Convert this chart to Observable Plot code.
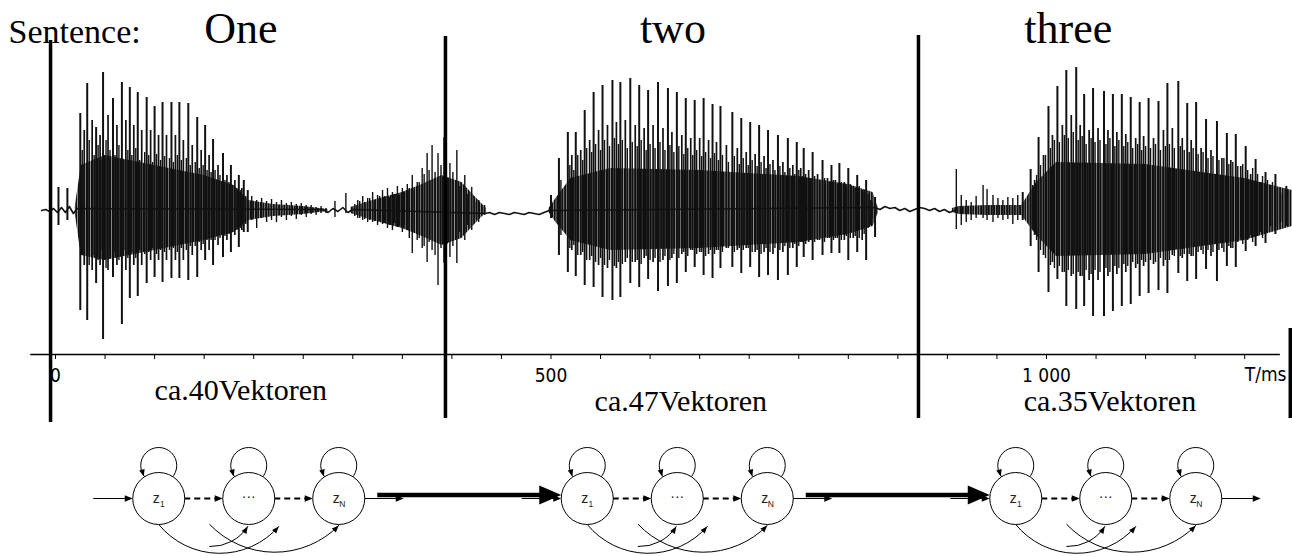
<!DOCTYPE html>
<html><head><meta charset="utf-8">
<script src="https://cdn.jsdelivr.net/npm/d3@7"></script>
<script src="https://cdn.jsdelivr.net/npm/@observablehq/plot@0.6"></script>
<style>body{margin:0;background:#fff}#chart svg{display:block}</style>
</head><body><div id="chart"></div>
<script>
// ---------- data (time in ms, amplitude in arbitrary units) ----------
const words = ["One", "two", "three"];
const wordTimes = [187, 623, 1022];
const vectorLabels = ["ca.40Vektoren", "ca.47Vektoren", "ca.35Vektoren"];
const vectorTimes = [187, 631, 1064];
const vectorRows = [-189, -200, -200];
const boundaries = [-5, 393.5, 870.8, 1246];
const boundaryTops = [170, 174, 175, -118];
const boundaryBottoms = [-212, -208, -208, -208];
const tickValues = d3.range(0, 1201, 50);
const tickLabels = {0: "0", 500: "500", 1000: "1 000"};
const axisUnit = "T/ms";

// "One" pitch pulses
const oneT  = [3,12,25,32,41,48,58,67,75,83,92,100,108,117,125,134,143,151,159,169,177,185,190,194];
const oneUp = [23,22,97,127,83,138,112,128,123,118,113,104,108,108,108,107,93,85,71,57,45,35,30,20];
const oneDn = [-15,-10,-100,-110,-73,-129,-67,-114,-88,-86,-73,-67,-72,-68,-68,-70,-67,-50,-55,-47,-42,-37,-22,-22];
const one2T  = [29,37,45,53,62,71,79,87,96,104,112,121,129,138,147,155,164,173,181,188];
const one2Up = [80,90,75,95,85,90,85,80,80,75,75,75,70,65,60,55,45,35,30,22];
const one2Dn = [-55,-60,-55,-60,-55,-60,-55,-55,-50,-50,-50,-50,-50,-45,-40,-40,-35,-30,-25,-20];
const one3T  = [27,34,39,43,47,51,55,60,64,69,73,77,81,85,90,94,98,102,106,110,115,119,123,127,132,136,141,145,149,153,157,161,166,171,175,179,183,187,192];
const one3Up = [60,70,55,65,50,70,60,55,65,50,60,55,62,50,58,55,48,56,50,54,52,48,55,50,52,45,48,42,45,40,38,40,35,30,28,25,22,20,14];
const one3Dn = [-45,-55,-45,-50,-40,-58,-45,-42,-50,-40,-48,-42,-48,-40,-44,-42,-38,-44,-40,-42,-40,-38,-42,-38,-40,-36,-36,-32,-34,-30,-30,-30,-28,-26,-24,-22,-20,-18,-14];
// fricative tail after "One"
const tailT  = [198,203,208,213,218,223,228,233,238,243,248,253,258,263,268,273,282,293];
const tailUp = [14,10,12,9,11,8,10,7,8,6,7,5,5,3,4,2,9,17];
const tailDn = [-10,-18,-8,-12,-10,-12,-7,-10,-6,-9,-5,-7,-4,-5,-3,-3,-7,-3];
// aspiration of "two"
const aspT  = [305,310,315,320,325,330,335,340,345,350,355,360,365,370,375,380,386,392,398,405,413,420,427,433];
const aspUp = [10,14,12,18,15,20,22,18,24,22,26,35,28,42,57,65,57,73,47,60,35,23,10,5];
const aspDn = [-8,-10,-12,-12,-15,-14,-18,-20,-17,-22,-20,-43,-30,-38,-52,-40,-75,-53,-47,-53,-30,-20,-12,-5];
const asp3T  = [302,307,312,317,322,327,332,337,342,347,352,357,362,367,372,377,383,389,395,401,408,416,423,430];
const asp3Up = [6,9,8,12,10,14,14,13,16,15,18,22,20,28,36,40,38,45,32,38,24,16,8,4];
const asp3Dn = [-6,-8,-9,-10,-11,-11,-13,-15,-13,-16,-15,-28,-22,-28,-36,-32,-45,-38,-34,-36,-22,-15,-9,-4];
// "two" pitch pulses
const twoT  = [500,508,517,525,534,543,552,562,570,580,589,598,608,618,627,636,645,654,663,671,683,692,701,710,719,729,739,748,755,764,774,783,791,800,809,818,827];
const twoUp = [15,52,78,78,100,118,125,130,128,132,125,120,128,122,118,112,110,112,106,104,98,92,88,85,80,75,72,68,62,58,50,45,47,42,35,30,13];
const twoDn = [-8,-45,-62,-66,-75,-77,-87,-90,-87,-73,-77,-69,-81,-76,-73,-62,-57,-65,-68,-58,-57,-63,-57,-67,-65,-70,-65,-57,-47,-50,-45,-43,-43,-50,-42,-50,-27];
const two2T  = [521,530,539,548,557,566,575,585,594,603,613,622,632,641,650,659,667,677,688,697,706,715,724,734,744,752,760,769,779,787,796,805,814,822];
const two2Up = [55,60,70,80,85,88,90,85,82,85,82,78,75,72,72,70,68,65,62,58,56,54,50,48,45,42,40,36,32,30,28,24,20,10];
const two2Dn = [-40,-45,-50,-55,-58,-58,-52,-52,-48,-52,-50,-48,-44,-40,-42,-44,-40,-38,-40,-38,-42,-42,-44,-42,-38,-32,-32,-30,-28,-28,-30,-28,-30,-15];
const two3T  = [510,519,523,527,532,536,541,545,550,554,559,564,568,572,577,582,587,591,596,600,605,610,615,620,624,629,634,638,643,647,652,656,661,665,669,673,679,685,690,694,699,703,708,712,717,721,726,731,736,741,746,750,754,757,762,766,771,776,781,785,789,793,798,802,807,811,816,820,824];
const two3Up = [30,45,40,55,50,62,58,66,60,70,64,72,66,70,62,68,64,70,60,66,62,68,60,65,58,64,56,62,55,60,54,58,52,57,50,55,48,54,46,52,45,50,44,48,42,46,40,44,38,42,36,40,34,36,32,34,30,32,28,30,26,28,24,26,22,24,18,16,8];
const two3Dn = [-25,-38,-35,-45,-42,-50,-46,-52,-48,-55,-50,-56,-52,-54,-48,-52,-50,-54,-46,-50,-48,-52,-46,-50,-44,-48,-42,-46,-40,-44,-42,-46,-40,-44,-40,-42,-38,-42,-38,-40,-38,-42,-40,-44,-38,-42,-38,-40,-36,-38,-34,-36,-32,-34,-30,-32,-30,-32,-28,-30,-28,-30,-26,-28,-26,-28,-24,-18,-8];
// onset noise of "three"
const thrOnT  = [909,914,919,924,929,936,940,946,951,956,961,966,971];
const thrOnUp = [41,15,10,8,14,25,21,15,12,10,13,12,15];
const thrOnDn = [-19,-15,-12,-10,-8,-8,-10,-12,-8,-10,-9,-14,-10];
// "three" pitch pulses
const threeT  = [976,984,992,1002,1011,1020,1030,1038,1047,1058,1067,1076,1085,1094,1103,1113,1122,1133,1142,1151,1161,1172,1182,1191,1201,1211,1221,1231,1242];
const threeUp = [18,41,73,104,124,140,143,116,122,119,116,116,113,108,112,109,127,129,107,108,91,89,77,76,64,51,38,36,24];
const threeDn = [-10,-36,-62,-82,-69,-96,-99,-96,-106,-106,-101,-96,-94,-86,-83,-80,-83,-63,-71,-69,-59,-71,-56,-57,-41,-36,-33,-24,-16];
const three2T  = [988,997,1006,1016,1025,1034,1043,1052,1062,1071,1080,1090,1098,1108,1118,1127,1137,1146,1156,1166,1177,1186,1196,1206,1216,1226,1236];
const three2Up = [30,55,75,85,95,85,80,82,80,78,76,72,74,72,80,82,72,70,62,60,52,50,44,36,28,25,18];
const three2Dn = [-25,-45,-52,-62,-66,-66,-70,-70,-66,-64,-62,-58,-56,-54,-56,-45,-48,-46,-40,-46,-38,-38,-28,-25,-22,-16,-12];
const three3T  = [986,990,994,999,1004,1008,1013,1018,1022,1027,1032,1036,1040,1045,1049,1054,1060,1064,1069,1073,1078,1082,1087,1092,1096,1100,1105,1110,1115,1120,1124,1129,1135,1139,1144,1148,1153,1158,1163,1168,1174,1179,1184,1188,1193,1198,1203,1208,1213,1218,1223,1228,1233,1238];
const three3Up = [25,35,45,55,62,70,68,75,72,78,70,74,66,72,68,70,66,72,64,70,64,68,62,66,60,64,62,66,60,64,66,62,64,60,58,62,56,58,52,54,50,52,46,48,44,46,40,42,36,34,30,28,22,16];
const three3Dn = [-20,-30,-40,-48,-55,-58,-56,-62,-60,-64,-62,-66,-60,-64,-60,-62,-58,-62,-56,-58,-54,-56,-52,-54,-50,-52,-50,-52,-48,-50,-50,-46,-46,-44,-44,-46,-42,-44,-40,-42,-40,-42,-36,-38,-32,-34,-30,-32,-26,-28,-22,-20,-16,-12];

// dense core envelopes
const coreSeg = ["one","one","one","one","one","one","one","one","one","one",
                 "asp","asp","asp","asp","asp","asp","asp","asp",
                 "two","two","two","two","two","two","two","two","two",
                 "thr","thr","thr","thr","thr","thr","thr","thr","thr"];
const coreT  = [20,26,50,100,150,180,195,220,250,275, 298,320,350,370,390,410,425,435, 498,505,520,560,650,750,800,825,830, 905,912,940,975,990,1010,1100,1200,1248];
const coreUp = [4,45,55,45,35,25,10,6,4,1, 3,10,18,26,35,28,12,2, 2,12,32,42,40,34,26,18,3, 2,4,5,5,28,48,46,32,20];
const coreDn = [-4,-45,-50,-40,-30,-22,-10,-6,-4,-1, -3,-10,-18,-26,-35,-28,-12,-2, -2,-12,-30,-40,-38,-32,-24,-16,-3, -2,-4,-5,-5,-25,-46,-44,-30,-16];

// low-level background noise
const baseT = [-14,-10,-6,-2,2,6,10,14,18,22, 270,275,280,285,290,295,300, 433,438,443,448,453,458,463,468,473,478,483,488,493,498, 827,832,837,842,847,852,857,862,867,872,877,882,887,892,897,902,907];
const baseA = [0,1,-1,2,-2,3,-2,4,-3,2, 1,-2,2,-1,3,-2,1, -3,-2,-4,-2,-3,-4,-2,-3,-4,-2,-3,-4,-2,0, 3,1,4,2,3,0,2,-1,1,3,2,0,2,-1,1,-2,0];

// ---------- layout ----------
const W = 1292, H = 556;
const pxPerMs = 0.991, originPx = 55, zeroPx = 210, axisPx = 354;
const xDomain = [-originPx / pxPerMs, (W - originPx) / pxPerMs];
const yDomain = [-(axisPx - zeroPx), zeroPx];
const mx = px => px / pxPerMs;          // pixel offset -> ms
const rowY = px => zeroPx - px;          // page row -> amplitude units
const ink = "#111";
const tickFont = "'Liberation Sans Narrow', 'DejaVu Sans Condensed', 'Liberation Sans', sans-serif";

const zip = (T, U, D) => T.map((t, i) => ({t, up: U[i], dn: D[i]}));
const spikesMain = [...zip(oneT, oneUp, oneDn), ...zip(twoT, twoUp, twoDn), ...zip(threeT, threeUp, threeDn)];
const spikesSec = [...zip(one2T, one2Up, one2Dn), ...zip(two2T, two2Up, two2Dn), ...zip(three2T, three2Up, three2Dn)];
const spikesTer = [...zip(one3T, one3Up, one3Dn), ...zip(two3T, two3Up, two3Dn), ...zip(three3T, three3Up, three3Dn), ...zip(asp3T, asp3Up, asp3Dn)];
const spikesNoise = [...zip(tailT, tailUp, tailDn), ...zip(aspT, aspUp, aspDn), ...zip(thrOnT, thrOnUp, thrOnDn)];
const core = coreT.map((t, i) => ({t, up: coreUp[i], dn: coreDn[i], seg: coreSeg[i]}));
const base = baseT.map((t, i) => ({t, a: baseA[i]}));

// ---------- HMM diagrams ----------
const hmmMid = [195, 627.4, 1059.8];
const gap = mx(90);
const R = 26;
const nodeY = rowY(498);
const nodes = hmmMid.flatMap(c => [-1, 0, 1].map(j => ({x: c + j * gap, j})));
const headSym = ratio => ({draw(ctx, size) {
  const L = Math.sqrt(size / Math.PI), w = L * ratio / 2;
  ctx.moveTo(0, 0); ctx.lineTo(w, L); ctx.lineTo(-w, L); ctx.closePath();
}});
const smallHead = headSym(0.8), bigHead = headSym(0.86);
const heads = [];      // straight-arrow heads (8 px)
const curvedHeads = []; // loop and arc heads (7 px)
const dashes = [], thin = [], thick = [];
hmmMid.forEach((c, k) => {
  const z1 = c - gap, zN = c + gap;
  [[z1, c], [c, zN]].forEach(([a, b]) => {
    dashes.push({x1: a + mx(R), x2: b - mx(R + 5)});
    heads.push({x: b - mx(R), y: nodeY, rot: 90});
  });
  thin.push({x1: z1 - mx(65), x2: z1 - mx(R + 5)});
  heads.push({x: z1 - mx(R), y: nodeY, rot: 90});
  thin.push({x1: zN + mx(R), x2: zN + mx(65 - 5)});
  heads.push({x: zN + mx(65), y: nodeY, rot: 90});
  [z1, c, zN].forEach(x => curvedHeads.push({x: x - mx(15), y: rowY(476), rot: 165}));
  if (k < hmmMid.length - 1) {
    const tip = hmmMid[k + 1] - gap - mx(R);
    thick.push({x1: zN + mx(39), x2: tip - mx(16)});
  }
});
const thickHeads = thick.map(d => ({x: d.x2 + mx(16), y: rowY(494.5)}));
// skip arcs (relative to z1, in page pixels); bend = downward bulge
const arcDefs = [
  {sx: 0, sy: 524, ex: 120, ey: 526, bend: 50},
  {sx: 51, sy: 524, ex: 180, ey: 525, bend: 46},
  {sx: 51, sy: 546, ex: 89, ey: 526, bend: 30}
];
const arcs = [];
hmmMid.forEach(c => {
  const z1 = c - gap;
  arcDefs.forEach(a => {
    arcs.push({x1: z1 + mx(a.sx), y1: rowY(a.sy), x2: z1 + mx(a.ex), y2: rowY(a.ey)});
    const ang = Math.atan2(a.ey - a.sy, a.ex - a.sx) * 180 / Math.PI - a.bend;
    curvedHeads.push({x: z1 + mx(a.ex), y: rowY(a.ey), rot: ang + 90});
  });
});
const subs = nodes.filter(d => d.j !== 0);

const defs = () => {
  const g = document.createElementNS("http://www.w3.org/2000/svg", "defs");
  g.innerHTML = '<pattern id="dense" patternUnits="userSpaceOnUse" width="2.6" height="8"><rect width="2.1" height="8" fill="#111"/></pattern>';
  return g;
};

const plot = Plot.plot({
  width: W, height: H,
  marginLeft: 0, marginRight: 0, marginTop: 0, marginBottom: H - axisPx,
  x: {domain: xDomain},
  y: {domain: yDomain, axis: null},
  style: {background: "white", color: "black", fontFamily: "Liberation Sans"},
  marks: [
    defs,
    // waveform
    Plot.lineY(base, {x: "t", y: "a", stroke: ink, strokeWidth: 1.6}),
    Plot.areaY(core, {x: "t", y1: "dn", y2: "up", z: "seg", fill: "url(#dense)"}),
    Plot.ruleX(spikesNoise, {x: "t", y1: "dn", y2: "up", stroke: ink, strokeWidth: 1.4}),
    Plot.ruleX(spikesTer, {x: "t", y1: "dn", y2: "up", stroke: ink, strokeWidth: 1.4}),
    Plot.ruleX(spikesSec, {x: "t", y1: "dn", y2: "up", stroke: ink, strokeWidth: 1.7}),
    Plot.ruleX(spikesMain, {x: "t", y1: "dn", y2: "up", stroke: ink, strokeWidth: 2}),
    // axis
    Plot.ruleY([-(axisPx - zeroPx)], {x1: -25, x2: 1236, stroke: "black", strokeWidth: 1.6}),
    Plot.axisX(tickValues, {tickSize: 5, tickPadding: 9, tickFormat: d => tickLabels[d] ?? "",
      fontSize: 19, fontFamily: tickFont, label: null, strokeWidth: 1}),
    Plot.text([axisUnit], {x: 1200, y: rowY(374), text: d => d, textAnchor: "start", fontSize: 19, fontFamily: tickFont}),
    // segment boundaries
    Plot.ruleX(boundaries, {x: d => d, y1: (d, i) => boundaryBottoms[i], y2: (d, i) => boundaryTops[i], stroke: "black", strokeWidth: 3.5}),
    // titles
    Plot.text(["Sentence:"], {x: mx(8 - originPx), y: rowY(42), text: d => d, textAnchor: "start", lineAnchor: "bottom", fontSize: 34, fontFamily: "Liberation Serif"}),
    Plot.text(words, {x: (d, i) => wordTimes[i], y: rowY(42), text: d => d, lineAnchor: "bottom", fontSize: 44, fontFamily: "Liberation Serif"}),
    Plot.text(vectorLabels, {x: (d, i) => vectorTimes[i], y: (d, i) => vectorRows[i], text: d => d, lineAnchor: "bottom", fontSize: 30, fontFamily: "Liberation Serif"}),
    // HMM diagrams
    Plot.dot(nodes, {x: "x", y: rowY(465), r: 18, fill: "none", stroke: "black", strokeWidth: 1}),
    Plot.ruleY(dashes, {x1: "x1", x2: "x2", y: nodeY, stroke: "black", strokeWidth: 2, strokeDasharray: "6,4"}),
    Plot.ruleY(thin, {x1: "x1", x2: "x2", y: nodeY, stroke: "black", strokeWidth: 1}),
    Plot.ruleY(thick, {x1: "x1", x2: "x2", y: rowY(494.5), stroke: "black", strokeWidth: 4.5}),
    Plot.dot(thickHeads, {x: "x", y: "y", r: 22, rotate: 90, symbol: bigHead, fill: "black", stroke: "none"}),
    ...arcDefs.map((a, i) => Plot.arrow(arcs.filter((d, j) => j % 3 === i), {x1: "x1", y1: "y1", x2: "x2", y2: "y2", bend: -a.bend, headLength: 0, stroke: "black", strokeWidth: 1})),
    Plot.dot(nodes, {x: "x", y: nodeY, r: R, fill: "white", stroke: "black", strokeWidth: 1}),
    Plot.dot(heads, {x: "x", y: "y", r: 8, rotate: "rot", symbol: smallHead, fill: "black", stroke: "none"}),
    Plot.dot(curvedHeads, {x: "x", y: "y", r: 7, rotate: "rot", symbol: smallHead, fill: "black", stroke: "none"}),
    Plot.text(subs, {x: d => d.x - mx(2.5), y: nodeY, text: () => "z", fontSize: 14, fill: "#222"}),
    Plot.text(subs, {x: d => d.x + mx(3.5), y: rowY(503.5), text: d => d.j < 0 ? "1" : "N", fontSize: 8.5, fill: "#222"}),
    Plot.text(nodes.filter(d => d.j === 0), {x: "x", y: rowY(496), text: () => "···", fontSize: 14, fill: "#222"})
  ]
});
document.getElementById("chart").appendChild(plot);
</script>
</body></html>
